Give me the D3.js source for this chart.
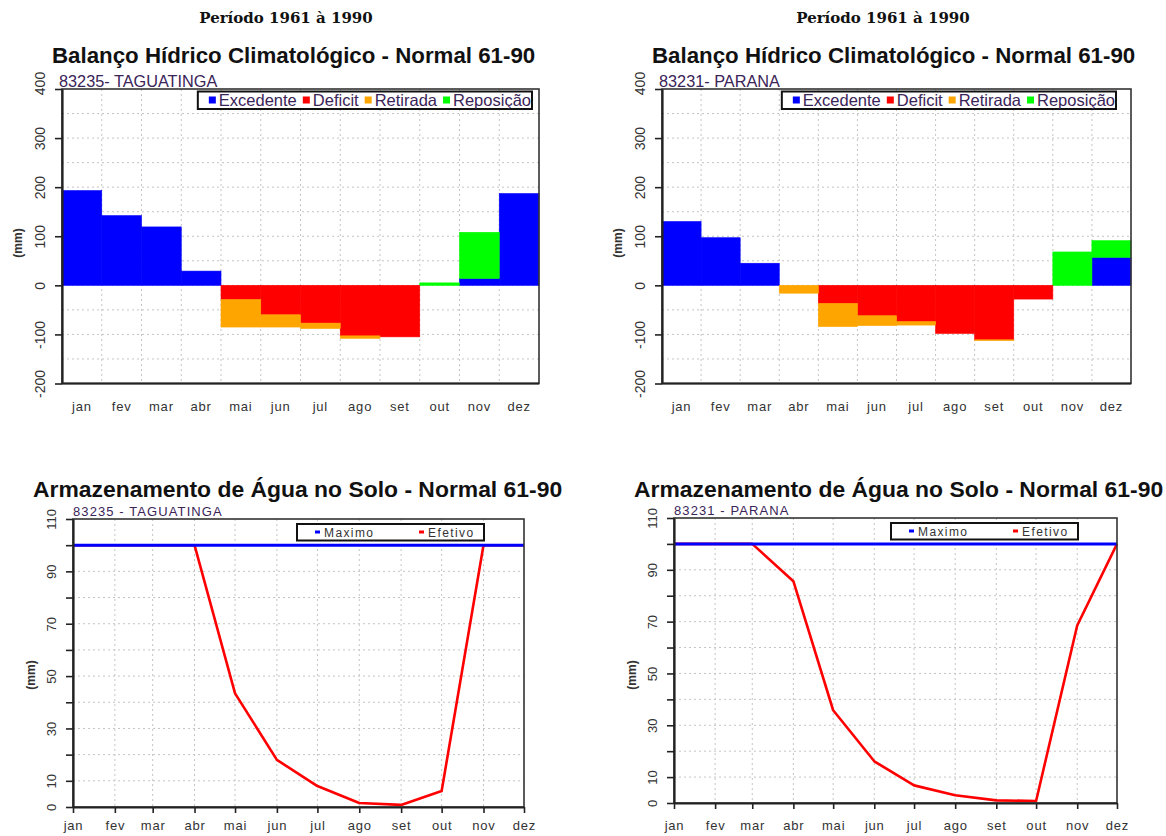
<!DOCTYPE html>
<html>
<head>
<meta charset="utf-8">
<script src="https://cdn.jsdelivr.net/npm/d3@7/dist/d3.min.js"></script>
<style>
body { margin: 0; background: #fff; }
svg { display: block; font-family: "Liberation Sans", Arial, sans-serif; }
</style>
</head>
<body>
<svg id="chart"></svg>
<script>
// months (x axis)
var meses = ["jan", "fev", "mar", "abr", "mai", "jun", "jul", "ago", "set", "out", "nov", "dez"];

// balanço hídrico - 83235 TAGUATINGA (mm)
var excTag = [193, 142, 119, 29, 0, 0, 0, 0, 0, 0, 14, 187];
var repTag = [0, 0, 0, 0, 0, 0, 0, 0, 0, 5, 94, 0];
var defTag = [0, 0, 0, 0, 29, 60, 77, 103, 105, 0, 0, 0];
var retTag = [0, 0, 0, 0, 56, 25, 11, 5, 0, 0, 0, 0];

// balanço hídrico - 83231 PARANA (mm)
var excPar = [130, 97, 45, 0, 0, 0, 0, 0, 0, 0, 0, 57];
var repPar = [0, 0, 0, 0, 0, 0, 0, 0, 0, 0, 68, 34];
var defPar = [0, 0, 0, 0, 37, 62, 74, 98, 111, 28, 0, 0];
var retPar = [0, 0, 0, 16, 47, 20, 7, 0, 1.5, 0, 0, 0];

// armazenamento de água no solo (mm)
var maxTag = [100, 100, 100, 100, 100, 100, 100, 100, 100, 100, 100, 100];
var efeTag = [100, 100, 100, 100, 43.4, 18, 8, 1.5, 0.8, 6.1, 100, 100];
var maxPar = [100, 100, 100, 100, 100, 100, 100, 100, 100, 100, 100, 100];
var efePar = [100, 100, 100, 85.6, 35.8, 16.1, 6.8, 3.0, 1.0, 0.8, 68.5, 100];

// tick labels
var balTicks = [-200, -100, 0, 100, 200, 300, 400];
var balGrid = [-150, -100, -50, 0, 50, 100, 150, 200, 250, 300, 350];
var armTicks = [0, 10, 20, 30, 40, 50, 60, 70, 80, 90, 100, 110];
var armLabels = [0, 10, 30, 50, 70, 90, 110];

var periodo = "Período 1961 à 1990";
var tituloBal = "Balanço Hídrico Climatológico - Normal 61-90";
var tituloArm = "Armazenamento de Água no Solo - Normal 61-90";

var cores = {exc: "#0000ff", def: "#ff0000", ret: "#ffa500", rep: "#00ff00"};
var nomes = {exc: "Excedente", def: "Deficit", ret: "Retirada", rep: "Reposição"};
var txtCor = "#3a2458";
var tickCor = "#333";

var svg = d3.select("#chart").attr("width", 1166).attr("height", 836);
svg.append("rect").attr("width", 1166).attr("height", 836).attr("fill", "#fff");

function rotLabels(ax) {
	ax.selectAll(".tick text")
		.attr("transform", "rotate(-90)")
		.attr("x", 0)
		.attr("y", -17)
		.attr("dy", 0)
		.style("text-anchor", "middle");
}

function balanco(c) {
	var g = svg.append("g");

	g.append("text")
		.attr("x", c.periodoX).attr("y", 23)
		.attr("text-anchor", "middle")
		.style("font-family", "'DejaVu Serif', serif")
		.style("font-weight", "bold")
		.style("font-size", "15px")
		.attr("fill", "#111")
		.text(periodo);

	g.append("text")
		.attr("x", c.tituloX).attr("y", 63)
		.style("font-weight", "bold")
		.style("font-size", "22.3px")
		.attr("fill", "#111")
		.text(tituloBal);

	g.append("text")
		.attr("x", c.left - 3).attr("y", 86.5)
		.style("font-size", "16.3px")
		.attr("fill", txtCor)
		.text(c.estacao);

	var x = d3.scaleBand().domain(meses).range([c.left, c.right]).padding(0);
	var y = d3.scaleLinear().domain([-200, 400]).range([383.5, 89]);

	// grid
	g.append("g").selectAll("line")
		.data(balGrid)
		.join("line")
		.attr("x1", c.left).attr("x2", c.right)
		.attr("y1", d => y(d)).attr("y2", d => y(d))
		.attr("stroke", "#c4c4c4").attr("stroke-dasharray", "2,3");
	g.append("g").selectAll("line")
		.data(meses.slice(1))
		.join("line")
		.attr("x1", d => x(d)).attr("x2", d => x(d))
		.attr("y1", y(400)).attr("y2", y(-200))
		.attr("stroke", "#c4c4c4").attr("stroke-dasharray", "2,3");

	var tabela = meses.map((m, i) => ({
		mes: m,
		exc: c.exc[i],
		rep: c.rep[i],
		def: -c.def[i],
		ret: -c.ret[i]
	}));
	var series = d3.stack()
		.keys(["exc", "rep", "def", "ret"])
		.offset(d3.stackOffsetDiverging)(tabela);

	g.append("g").selectAll("g")
		.data(series)
		.join("g")
		.attr("fill", s => cores[s.key])
		.attr("stroke", s => cores[s.key])
		.attr("stroke-width", 0.6)
		.selectAll("rect")
		.data(s => s.filter(d => d[0] != d[1]))
		.join("rect")
		.attr("x", d => x(d.data.mes))
		.attr("width", x.bandwidth())
		.attr("y", d => y(Math.max(d[0], d[1])))
		.attr("height", d => Math.abs(y(d[0]) - y(d[1])));

	// border + axes
	g.append("rect")
		.attr("x", c.left).attr("y", y(400))
		.attr("width", c.right - c.left).attr("height", y(-200) - y(400))
		.attr("fill", "none").attr("stroke", "#333").attr("stroke-width", 1.6);

	var ay = g.append("g")
		.attr("transform", "translate(" + c.left + ",0)")
		.call(d3.axisLeft(y).tickValues(balTicks).tickSize(7).tickSizeOuter(0)
			.tickFormat(d => String(d)));
	ay.select(".domain").attr("stroke", "#222").attr("stroke-width", 2.2);
	ay.selectAll(".tick line").attr("stroke", "#222").attr("stroke-width", 1.6);
	ay.selectAll(".tick text").attr("fill", tickCor).style("font-size", "14px");
	rotLabels(ay);
	// top label sits a bit above its tick, as in the original
	ay.selectAll(".tick text").filter(d => d == 400).attr("x", 6);

	g.append("line")
		.attr("x1", c.left).attr("x2", c.right)
		.attr("y1", y(-200)).attr("y2", y(-200))
		.attr("stroke", "#222").attr("stroke-width", 2.2);

	g.append("g").selectAll("text")
		.data(meses)
		.join("text")
		.attr("x", d => x(d) + x.bandwidth() / 2)
		.attr("y", 411)
		.attr("text-anchor", "middle")
		.style("font-size", "13px")
		.style("letter-spacing", "0.8px")
		.attr("fill", tickCor)
		.text(d => d);

	g.append("text")
		.attr("transform", "translate(" + (c.left - 40) + ",243) rotate(-90)")
		.attr("text-anchor", "middle")
		.style("font-size", "12px")
		.style("font-weight", "bold")
		.attr("fill", "#333")
		.text("(mm)");

	// legend
	var leg = g.append("g");
	var box = leg.append("rect")
		.attr("y", 91.5).attr("height", 17.5)
		.attr("fill", "#fff").attr("stroke", "#111").attr("stroke-width", 2);
	var cx = 0;
	var itens = leg.append("g");
	["exc", "def", "ret", "rep"].forEach(function(k) {
		itens.append("rect")
			.attr("x", cx).attr("y", 96.5)
			.attr("width", 7).attr("height", 7)
			.attr("fill", cores[k]);
		var t = itens.append("text")
			.attr("x", cx + 10).attr("y", 105.5)
			.style("font-size", "16.5px")
			.attr("fill", txtCor)
			.text(nomes[k]);
		cx += 10 + t.node().getComputedTextLength() + 6;
	});
	var w = cx + 6;
	var bx = c.legRight - w;
	box.attr("x", bx).attr("width", w);
	itens.attr("transform", "translate(" + (bx + 11) + ",0)");
}

function armazenamento(c) {
	var g = svg.append("g");

	g.append("text")
		.attr("x", c.tituloX).attr("y", 497)
		.style("font-weight", "bold")
		.style("font-size", "22.9px")
		.attr("fill", "#111")
		.text(tituloArm);

	g.append("text")
		.attr("x", c.left).attr("y", c.top - 3)
		.style("font-size", "13px")
		.style("letter-spacing", "1.1px")
		.attr("fill", txtCor)
		.text(c.estacao);

	var datas = meses.map((m, i) => new Date(2001, i, 1));
	var x = d3.scaleTime().domain([datas[0], datas[11]]).range([c.left, c.right]);
	var y = d3.scaleLinear().domain([0, 110]).range([c.bottom, c.top]);

	g.append("g").selectAll("line")
		.data(armTicks.slice(1, -1))
		.join("line")
		.attr("x1", c.left).attr("x2", c.right)
		.attr("y1", d => y(d)).attr("y2", d => y(d))
		.attr("stroke", "#c4c4c4").attr("stroke-dasharray", "2,3");
	g.append("g").selectAll("line")
		.data(datas.slice(1, -1))
		.join("line")
		.attr("x1", d => x(d)).attr("x2", d => x(d))
		.attr("y1", c.top).attr("y2", c.bottom)
		.attr("stroke", "#c4c4c4").attr("stroke-dasharray", "2,3");

	var pontos = function(arr) {
		return arr.map((v, i) => ({date: datas[i], v: v}));
	};
	var linha = d3.line().x(d => x(d.date)).y(d => y(d.v));

	g.append("path")
		.datum(pontos(c.efe))
		.attr("d", linha)
		.attr("fill", "none").attr("stroke", "#ff0000").attr("stroke-width", 2.6)
		.attr("stroke-linejoin", "round");
	g.append("path")
		.datum(pontos(c.max))
		.attr("d", linha)
		.attr("fill", "none").attr("stroke", "#0000ff").attr("stroke-width", 3);

	g.append("rect")
		.attr("x", c.left).attr("y", c.top)
		.attr("width", c.right - c.left).attr("height", c.bottom - c.top)
		.attr("fill", "none").attr("stroke", "#333").attr("stroke-width", 1.6);

	var ay = g.append("g")
		.attr("transform", "translate(" + c.left + ",0)")
		.call(d3.axisLeft(y).tickValues(armTicks).tickSize(7).tickSizeOuter(0)
			.tickFormat(d => armLabels.indexOf(d) >= 0 ? String(d) : ""));
	ay.select(".domain").attr("stroke", "#222").attr("stroke-width", 2.2);
	ay.selectAll(".tick line").attr("stroke", "#222").attr("stroke-width", 1.6);
	ay.selectAll(".tick text").attr("fill", tickCor).style("font-size", "13px");
	rotLabels(ay);

	var ax = g.append("g")
		.attr("transform", "translate(0," + c.bottom + ")")
		.call(d3.axisBottom(x).tickValues(datas).tickSize(6).tickSizeOuter(0)
			.tickFormat((d, i) => meses[i]));
	ax.select(".domain").attr("stroke", "#222").attr("stroke-width", 2.2);
	ax.selectAll(".tick line").attr("stroke", "#222").attr("stroke-width", 1.6);
	ax.selectAll(".tick text")
		.attr("fill", tickCor)
		.attr("y", 0).attr("dy", 0)
		.attr("transform", "translate(0," + (830 - c.bottom) + ")")
		.style("font-size", "13px")
		.style("letter-spacing", "0.8px");

	g.append("text")
		.attr("transform", "translate(" + (c.left - 38) + ",675) rotate(-90)")
		.attr("text-anchor", "middle")
		.style("font-size", "12px")
		.style("font-weight", "bold")
		.attr("fill", "#333")
		.text("(mm)");

	// legend
	var leg = g.append("g").attr("transform", "translate(" + c.legX + "," + (c.top + 5) + ")");
	leg.append("rect")
		.attr("width", 187).attr("height", 16.5)
		.attr("fill", "#fff").attr("stroke", "#111").attr("stroke-width", 2);
	[["Maximo", "#0000ff", 18], ["Efetivo", "#ff0000", 122]].forEach(function(it) {
		leg.append("rect")
			.attr("x", it[2]).attr("y", 6.5)
			.attr("width", 5).attr("height", 3)
			.attr("fill", it[1]);
		leg.append("text")
			.attr("x", it[2] + 9).attr("y", 12.5)
			.style("font-size", "12px")
			.style("letter-spacing", "1.4px")
			.attr("fill", "#333")
			.text(it[0]);
	});
}

balanco({
	left: 62, right: 539, periodoX: 286, tituloX: 52, legRight: 532,
	estacao: "83235- TAGUATINGA",
	exc: excTag, rep: repTag, def: defTag, ret: retTag
});
balanco({
	left: 662, right: 1131, periodoX: 883, tituloX: 652, legRight: 1116,
	estacao: "83231- PARANA",
	exc: excPar, rep: repPar, def: defPar, ret: retPar
});
armazenamento({
	left: 73, right: 524, top: 519, bottom: 807, tituloX: 33, legX: 297,
	estacao: "83235 - TAGUATINGA",
	max: maxTag, efe: efeTag
});
armazenamento({
	left: 674, right: 1117, top: 518, bottom: 803, tituloX: 634, legX: 891,
	estacao: "83231 - PARANA",
	max: maxPar, efe: efePar
});
</script>
</body>
</html>
